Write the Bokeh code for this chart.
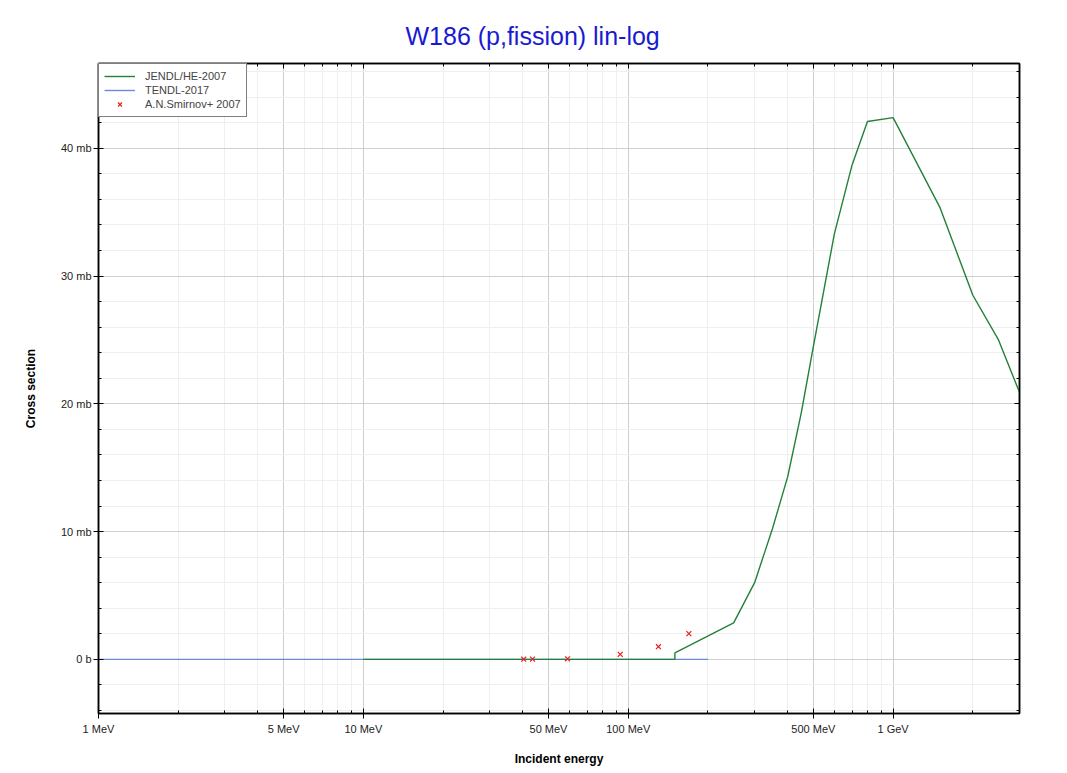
from bokeh.plotting import figure
from bokeh.models import (FixedTicker, LinearAxis, LogAxis, Range1d, Legend, LegendItem,
                          CustomJSTickFormatter)
from bokeh.embed import file_html
from bokeh.resources import INLINE

# ---- data (energies in MeV, cross sections in mb) ----
tendl_e = [1, 5, 10, 50, 100, 150, 200]
tendl_xs = [0, 0, 0, 0, 0, 0, 0]

jendl_e = [10, 150, 150, 250, 300, 350, 400, 450, 500, 600, 700, 800, 1000, 1500, 2000, 2500, 3000]
jendl_xs = [0, 0, 0.5, 2.85, 6.0, 10.2, 14.3, 19.3, 24.5, 33.3, 38.7, 42.1, 42.4, 35.4, 28.5, 25.0, 20.9]

exp_e = [40.3, 43.5, 59, 93.3, 130, 169.4]
exp_xs = [0.01, 0.02, 0.04, 0.39, 0.99, 2.01]

x_major = [1, 5, 10, 50, 100, 500, 1000]
x_minor = [2, 3, 4, 6, 7, 8, 9, 20, 30, 40, 60, 70, 80, 90,
           200, 300, 400, 600, 700, 800, 900, 2000, 3000]
y_major = [0, 10, 20, 30, 40]
y_minor = [-4, -2, 2, 4, 6, 8, 12, 14, 16, 18, 22, 24, 26, 28, 32, 34, 36, 38, 42, 44, 46]

FONT = "Liberation Sans"
GREEN = "#23803a"
BLUE = "#6a8ae0"
RED = "#e82020"

p = figure(x_axis_type="log", x_range=Range1d(1, 3000), y_range=Range1d(-4.24, 46.64),
           frame_width=921, frame_height=650,
           min_border_left=98, min_border_right=40, min_border_top=63, min_border_bottom=52,
           output_backend="svg", toolbar_location=None,
           title="W186 (p,fission) lin-log")

p.title.text_font = FONT
p.title.text_font_size = "25px"
p.title.text_font_style = "normal"
p.title.text_color = "#1a1ad0"
p.title.align = "left"
p.title.standoff = 27
p.title.offset = 307

xt = FixedTicker(ticks=x_major, minor_ticks=x_minor)
yt = FixedTicker(ticks=y_major, minor_ticks=y_minor)
xfmt = CustomJSTickFormatter(code="""
if (tick >= 1000) return (tick/1000) + " GeV";
return tick + " MeV";
""")
yfmt = CustomJSTickFormatter(code="""
if (tick == 0) return "0 b";
return tick + " mb";
""")

xa = p.xaxis[0]
ya = p.yaxis[0]
xa.ticker = xt
ya.ticker = yt
xa.formatter = xfmt
ya.formatter = yfmt
for ax in (xa, ya):
    ax.axis_line_color = "black"
    ax.axis_line_width = 1.5
    ax.major_tick_line_color = "black"
    ax.minor_tick_line_color = "black"
    ax.major_tick_in = 5
    ax.major_tick_out = 5
    ax.minor_tick_in = 3
    ax.minor_tick_out = 0
    ax.major_label_text_font = FONT
    ax.major_label_text_font_size = "11px"
    ax.major_label_text_color = "#222222"
    ax.axis_label_text_font = FONT
    ax.axis_label_text_font_size = "12px"
    ax.axis_label_text_font_style = "bold"
    ax.axis_label_text_color = "black"
xa.axis_label = "Incident energy"
ya.axis_label = "Cross section"
xa.major_label_standoff = 4
xa.axis_label_standoff = 14
ya.major_label_standoff = 2
ya.axis_label_standoff = 20

top = LogAxis(ticker=xt, major_label_text_color=None, major_label_text_font_size="1px",
              major_tick_in=5, major_tick_out=0,
              minor_tick_in=3, minor_tick_out=0, axis_line_color="black", axis_line_width=1.5,
              major_label_standoff=0)
right = LinearAxis(ticker=yt, major_label_text_color=None, major_label_text_font_size="1px",
                   major_tick_in=5, major_tick_out=0,
                   minor_tick_in=3, minor_tick_out=0, axis_line_color="black", axis_line_width=1.5,
                   major_label_standoff=0)
p.add_layout(top, "above")
p.add_layout(right, "right")

p.xgrid.ticker = xt
p.ygrid.ticker = yt
for g in (p.xgrid[0], p.ygrid[0]):
    g.grid_line_color = "#cfcfcf"
    g.grid_line_width = 1
    g.minor_grid_line_color = "#efefef"
    g.minor_grid_line_width = 1

p.outline_line_color = "black"
p.outline_line_width = 1.5

# ---- data renderers ----
r_tendl = p.line(tendl_e, tendl_xs, line_color=BLUE, line_width=1.4)
r_jendl = p.line(jendl_e, jendl_xs, line_color=GREEN, line_width=1.4)
r_exp = p.scatter(exp_e, exp_xs, marker="x", size=7, line_color=RED, line_width=1.2)

legend = Legend(items=[LegendItem(label="JENDL/HE-2007", renderers=[r_jendl]),
                       LegendItem(label="TENDL-2017", renderers=[r_tendl]),
                       LegendItem(label="A.N.Smirnov+ 2007", renderers=[r_exp])],
                location="top_left", margin=0, padding=5, spacing=0,
                label_height=14, glyph_height=14, glyph_width=31, label_standoff=10,
                border_line_color="black", border_line_width=1,
                label_text_font=FONT, label_text_font_size="11px",
                background_fill_color="white", background_fill_alpha=1)
p.add_layout(legend)

open("out.html", "w").write(file_html(p, INLINE))
